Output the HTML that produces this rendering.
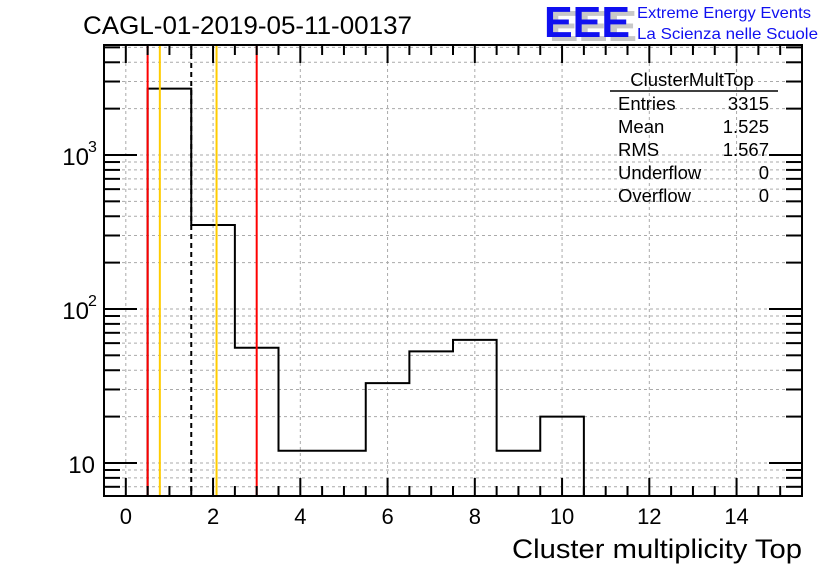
<!DOCTYPE html>
<html><head><meta charset="utf-8"><style>
html,body{margin:0;padding:0;background:#fff;}
svg{display:block;font-family:"Liberation Sans",sans-serif;}
</style></head><body>
<svg id="c" width="836" height="572">
<text x="83" y="34" font-size="25" textLength="329" lengthAdjust="spacingAndGlyphs">CAGL-01-2019-05-11-00137</text>
<g>
<text x="549" y="41" font-size="44" font-weight="bold" fill="#c8c8c8" textLength="88" lengthAdjust="spacingAndGlyphs">EEE</text>
<text x="544" y="37" font-size="44" font-weight="bold" fill="#1010f0" textLength="86" lengthAdjust="spacingAndGlyphs">EEE</text>
</g>
<text x="637" y="18" font-size="16" fill="#1010f0" textLength="174" lengthAdjust="spacingAndGlyphs">Extreme Energy Events</text>
<text x="637" y="39" font-size="16" fill="#1010f0" textLength="181" lengthAdjust="spacingAndGlyphs">La Scienza nelle Scuole</text>
<g id="grid"></g><g id="marks"></g><g id="axes"></g>
<g font-size="18.5">
<text x="692" y="86" text-anchor="middle">ClusterMultTop</text>
<line x1="610" y1="91" x2="778" y2="91" stroke="#000" stroke-width="1.5"/>
<text x="618" y="110">Entries</text><text x="769" y="110" text-anchor="end">3315</text>
<text x="618" y="133">Mean</text><text x="769" y="133" text-anchor="end">1.525</text>
<text x="618" y="156">RMS</text><text x="769" y="156" text-anchor="end">1.567</text>
<text x="618" y="179">Underflow</text><text x="769" y="179" text-anchor="end">0</text>
<text x="618" y="202">Overflow</text><text x="769" y="202" text-anchor="end">0</text>
</g>
<text x="512" y="558" font-size="27" textLength="290" lengthAdjust="spacingAndGlyphs">Cluster multiplicity Top</text>
</svg>
<script>
const binEdges=[0.5,1.5,2.5,3.5,4.5,5.5,6.5,7.5,8.5,9.5,10.5];
const counts=[2700,351,56,12,12,33,53,63,12,20];
const xTicks=[0,2,4,6,8,10,12,14];
const yDecades=[10,100,1000];
const vLines=[{x:0.5,c:"#ff0000",d:""},{x:0.78,c:"#ffcc00",d:""},{x:1.5,c:"#000",d:"5,4"},{x:2.08,c:"#ffcc00",d:""},{x:3.0,c:"#ff0000",d:""}];
const L=104,R=802,T=45,B=496,xmin=-0.5,xmax=15.5,ymin=6.1,ymax=5180;
const X=v=>L+(v-xmin)/(xmax-xmin)*(R-L);
const Y=v=>B-(Math.log10(v)-Math.log10(ymin))/(Math.log10(ymax)-Math.log10(ymin))*(B-T);
const NS="http://www.w3.org/2000/svg";
function mk(p,t,a){const e=document.createElementNS(NS,t);for(const k in a)e.setAttribute(k,a[k]);p.appendChild(e);return e;}
const grid=document.getElementById('grid'),marks=document.getElementById('marks'),axes=document.getElementById('axes');
xTicks.forEach(t=>{const g=mk(grid,'line',{x1:X(t),x2:X(t),y1:T,y2:B,stroke:'#aaa','stroke-dasharray':'3,3'});

});
for(let d=1;d<=1000;d*=10)for(let m=1;m<=9;m++){const v=d*m;if(v<ymin||v>ymax)continue;const y=Y(v);
const g=mk(grid,'line',{x1:L,x2:R,y1:y,y2:y,stroke:'#aaa','stroke-dasharray':'3,3'});


const len=m==1?33:16;
const tk=mk(axes,'line',{x1:L,x2:L+len,y1:y,y2:y,stroke:'#000','stroke-width':2});


const tr=mk(axes,'line',{x1:R,x2:R-len,y1:y,y2:y,stroke:'#000','stroke-width':2});

}
let d=`M${X(binEdges[0])},${B}`;
counts.forEach((c,i)=>{d+=` L${X(binEdges[i])},${Y(c)} L${X(binEdges[i+1])},${Y(c)}`;});
d+=` L${X(binEdges[binEdges.length-1])},${B}`;
const h=mk(marks,'path',{d:d,fill:'none',stroke:'#000','stroke-width':2});


vLines.forEach(v=>{const l=mk(marks,'line',{x1:X(v.x),x2:X(v.x),y1:T,y2:B,stroke:v.c,'stroke-width':2,'stroke-dasharray':v.d});

});
const f=mk(axes,'rect',{x:L,y:T,width:R-L,height:B-T,fill:'none',stroke:'#000','stroke-width':2});


for(let v=-0.5;v<=15.5;v+=0.5){const maj=Math.abs(v%2)<1e-9;const len=maj?18:10;
const a=mk(axes,'line',{x1:X(v),x2:X(v),y1:B,y2:B-len,stroke:'#000','stroke-width':2});


const b=mk(axes,'line',{x1:X(v),x2:X(v),y1:T,y2:T+len,stroke:'#000','stroke-width':2});

}
xTicks.forEach(t=>{const tx=mk(axes,'text',{x:X(t),y:524,'font-size':22,'text-anchor':'middle'});tx.textContent=t;

});
yDecades.forEach(v=>{const e=Math.round(Math.log10(v));const tx=mk(axes,'text',{x:e==1?95:89,y:Y(v)+10,'font-size':24,'text-anchor':'end'});
tx.textContent='10';


if(e>1){const s=mk(axes,'text',{x:88,y:Y(v)-3,'font-size':16});s.textContent=e;

}});
</script>
</body></html>
